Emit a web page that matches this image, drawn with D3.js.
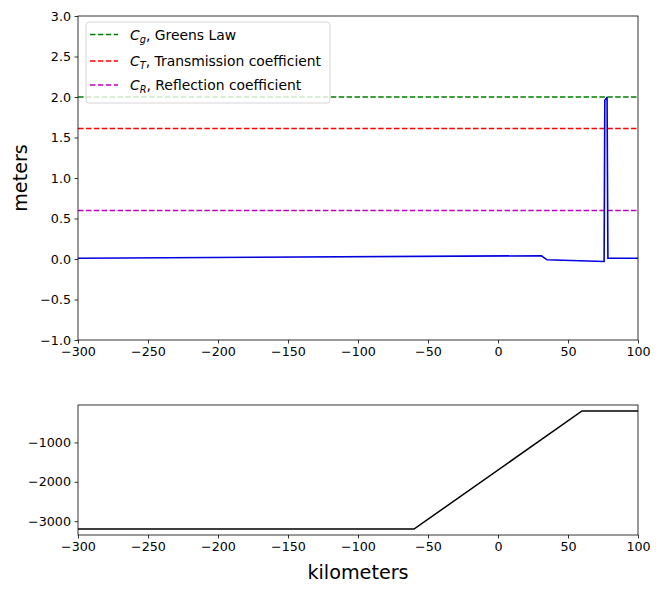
<!DOCTYPE html>
<html><head><meta charset="utf-8">
<script src="https://cdn.jsdelivr.net/npm/d3@7"></script>
<style>body{margin:0;background:#fff;} text{font-family:"DejaVu Sans",sans-serif;}</style>
</head><body>
<svg id="c" width="661" height="593"></svg>
<script>
// Data
const etaX = [-300, 31, 35, 75.8, 76.3, 77.3, 77.9, 78.5, 100];
const etaY = [0.01, 0.04, -0.01, -0.03, 1.96, 1.98, 2.0, 0.01, 0.01];
const hLines = [
  {name:"g", label:", Greens Law", value:2.0, color:"green"},
  {name:"T", label:", Transmission coefficient", value:1.61, color:"red"},
  {name:"R", label:", Reflection coefficient", value:0.6, color:"#bf00bf"}
];
const bathX = [-300, -60, 60, 100];
const bathY = [-3200, -3200, -200, -200];
const xTicks = [-300,-250,-200,-150,-100,-50,0,50,100];
const yTicksTop = [-1.0,-0.5,0.0,0.5,1.0,1.5,2.0,2.5,3.0];
const yTicksBot = [-3000,-2000,-1000];

const svg = d3.select("#c");
const L = 78, R = 638;
const x = d3.scaleLinear().domain([-300,100]).range([L,R]);
const yT = d3.scaleLinear().domain([-1,3]).range([340,16]);
const yB = d3.scaleLinear().domain([-3350,-50]).range([535,405]);
const fmtMinus = s => s.replace("-", "\u2212");

function axes(g, y, top, bottom, yt, yfmt){
  const xa = d3.axisBottom(x).tickValues(xTicks).tickSize(3.5).tickPadding(3.5)
    .tickFormat(d=>fmtMinus(String(d)));
  const gx = g.append("g").attr("transform",`translate(0,${bottom})`).call(xa);
  const ya = d3.axisLeft(y).tickValues(yt).tickSize(3.5).tickPadding(3.5).tickFormat(yfmt);
  const gy = g.append("g").attr("transform",`translate(${L},0)`).call(ya);
  [gx,gy].forEach(a=>{a.select(".domain").remove();
    a.selectAll("text").attr("font-size",12.7).attr("fill","#000").style("font-family","DejaVu Sans");
    a.selectAll("line").attr("stroke","#000").attr("stroke-width",0.8);});
  g.append("rect").attr("x",L).attr("y",top).attr("width",R-L).attr("height",bottom-top)
    .attr("fill","none").attr("stroke","#000").attr("stroke-width",0.8);
}

// top panel
const gt = svg.append("g");
hLines.forEach(h=>{
  gt.append("line").attr("x1",L).attr("x2",R).attr("y1",yT(h.value)).attr("y2",yT(h.value))
    .attr("stroke",h.color).attr("stroke-width",1.5).attr("stroke-dasharray","5.5,2.4");
});
const line = d3.line().x(d=>x(d[0])).y(d=>yT(d[1]));
gt.append("path").datum(etaX.map((v,i)=>[v,etaY[i]])).attr("d",line)
  .attr("fill","none").attr("stroke","#0000dd").attr("stroke-width",1.6);

// legend
const lg = gt.append("g").attr("transform","translate(86,22)");
lg.append("rect").attr("width",244).attr("height",81).attr("rx",3)
  .attr("fill","#fff").attr("fill-opacity",0.8).attr("stroke","#ccc").attr("stroke-width",0.8);
const rowY = [12.5, 39, 63];
hLines.forEach((h,i)=>{
  const yy = rowY[i];
  lg.append("line").attr("x1",4).attr("x2",32).attr("y1",yy).attr("y2",yy)
    .attr("stroke",h.color).attr("stroke-width",1.5).attr("stroke-dasharray","5.5,2.4");
  const t = lg.append("text").attr("x",44).attr("y",yy+5).attr("font-size",13.9);
  t.append("tspan").attr("font-style","italic").text("C");
  t.append("tspan").attr("font-style","italic").attr("font-size",9.8).attr("dy",3).text(h.name);
  t.append("tspan").attr("dy",-3).text(h.label);
});
axes(gt, yT, 16, 340, yTicksTop, d=>fmtMinus(d.toFixed(1)));
gt.append("text").attr("transform","translate(27,178) rotate(-90)").attr("text-anchor","middle")
  .attr("font-size",19.2).text("meters");

// bottom panel
const gb = svg.append("g");
const line2 = d3.line().x(d=>x(d[0])).y(d=>yB(d[1]));
gb.append("path").datum(bathX.map((v,i)=>[v,bathY[i]])).attr("d",line2)
  .attr("fill","none").attr("stroke","#000").attr("stroke-width",1.5);
axes(gb, yB, 405, 535, yTicksBot, d=>fmtMinus(String(d)));
gb.append("text").attr("x",358).attr("y",579).attr("text-anchor","middle")
  .attr("font-size",19.2).text("kilometers");
</script>
</body></html>
